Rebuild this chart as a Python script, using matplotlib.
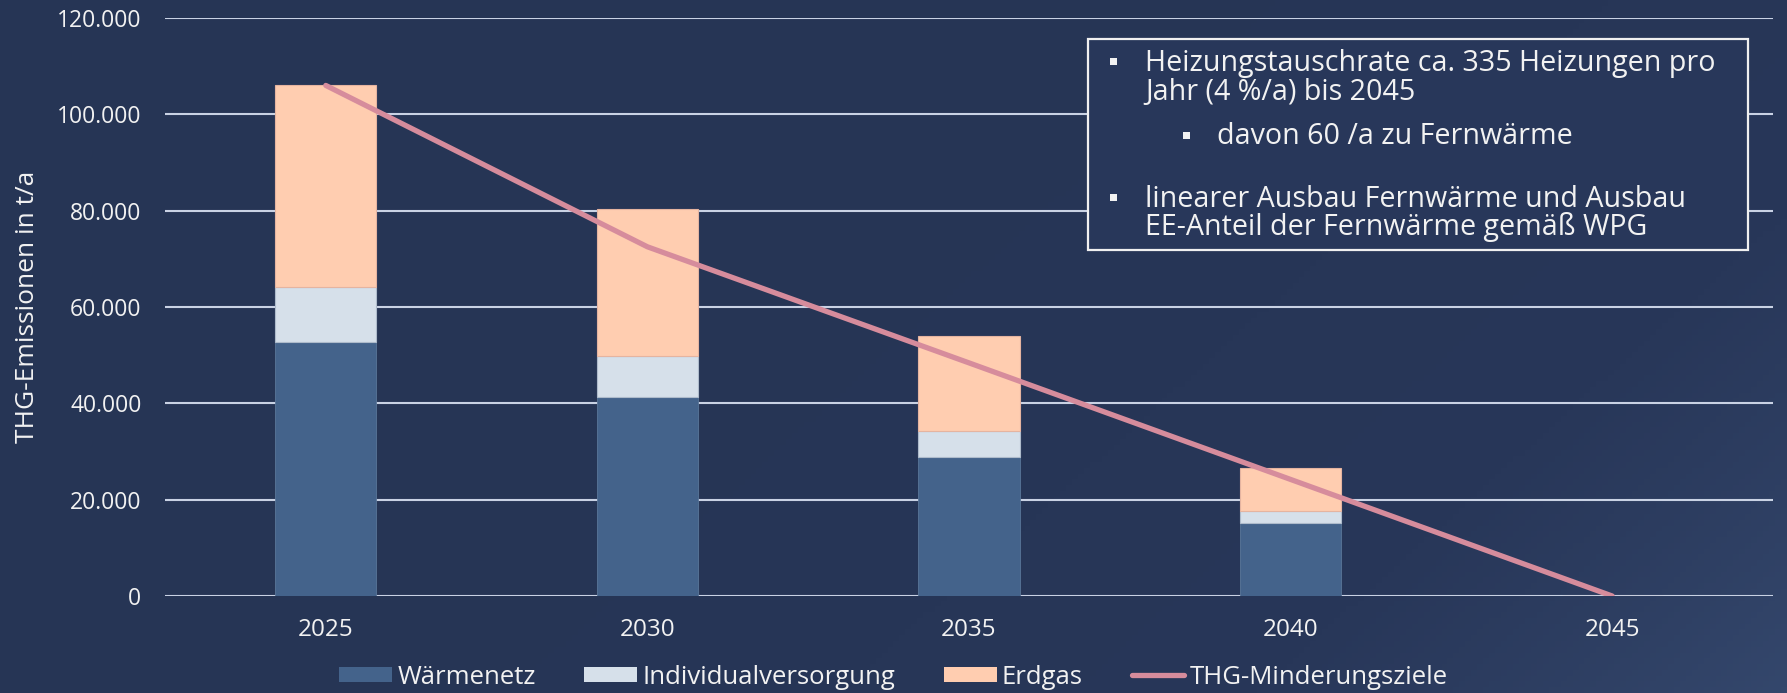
import numpy as np
import matplotlib
matplotlib.use("Agg")
import matplotlib.pyplot as plt
from matplotlib.patches import Rectangle, Patch
from matplotlib.lines import Line2D
from matplotlib.colors import LinearSegmentedColormap

# ---------------- data ----------------
years = ["2025", "2030", "2035", "2040", "2045"]
waermenetz = [52700, 41400, 28900, 15200, 0]
individual = [11400, 8500, 5400, 2400, 0]
erdgas = [41900, 30500, 19600, 9000, 0]
thg_ziele = [106000, 72500, 48400, 24200, 0]
yticks = [0, 20000, 40000, 60000, 80000, 100000, 120000]
ytick_labels = ["0", "20.000", "40.000", "60.000", "80.000", "100.000", "120.000"]
series_names = ["Wärmenetz", "Individualversorgung", "Erdgas", "THG-Minderungsziele"]
note_lines = [
    ("Heizungstauschrate ca. 335 Heizungen pro", 0, True),
    ("Jahr (4 %/a) bis 2045", 0, False),
    ("davon 60 /a zu Fernwärme", 1, True),
    ("linearer Ausbau Fernwärme und Ausbau", 0, True),
    ("EE-Anteil der Fernwärme gemäß WPG", 0, False),
]

# ---------------- style ----------------
FONT = ["Open Sans", "DejaVu Sans"]
plt.rcParams["font.family"] = FONT
TXT = "#F2F2F2"
C_W = "#44638B"
C_I = "#D6E0EA"
C_E = "#FFCDB0"
C_L = "#D68C9C"
GRID = "#C9D2E4"

W, H = 1787, 693
fig = plt.figure(figsize=(W / 100, H / 100), dpi=100)

# background gradient (darker top-left, lighter bottom-right)
bg = fig.add_axes([0, 0, 1, 1], zorder=-10)
gx, gy = np.meshgrid(np.linspace(0, 1, 300), np.linspace(0, 1, 120))
grad = np.clip(gx * 0.7 + gy * 0.3, 0, 1) ** 3
cmap = LinearSegmentedColormap.from_list("bg", ["#263555", "#283759", "#34476C"])
bg.imshow(grad, cmap=cmap, aspect="auto", extent=[0, 1, 0, 1], origin="upper")
bg.set_axis_off()

ax = fig.add_axes([165 / W, 1 - 596 / H, (1773 - 165) / W, (596 - 18) / H])
ax.set_facecolor("none")
x = np.arange(len(years))
bw = 0.315
ax.bar(x, waermenetz, bw, color=C_W, edgecolor="#5A7699", linewidth=0.6, zorder=2)
ax.bar(x, individual, bw, bottom=waermenetz, color=C_I, edgecolor="#AEBBCB",
       linewidth=0.8, zorder=2)
bot2 = np.array(waermenetz) + np.array(individual)
ax.bar(x, erdgas, bw, bottom=bot2, color=C_E, edgecolor="#E5B4A0", linewidth=0.8, zorder=2)
ax.plot(x, thg_ziele, color=C_L, linewidth=3.8, solid_capstyle="round", zorder=3)

ax.set_xlim(-0.5, 4.5)
ax.set_ylim(0, 120000)
ax.set_yticks(yticks)
ax.set_yticklabels(ytick_labels)
ax.set_xticks(x)
ax.set_xticklabels(years)
for s in ax.spines.values():
    s.set_visible(False)
ax.tick_params(axis="both", length=0, colors=TXT)
ax.tick_params(axis="y", pad=17, labelsize=16.5)
ax.tick_params(axis="x", pad=16, labelsize=17.5)
ax.yaxis.grid(True, color=GRID, linewidth=1.5, zorder=0)
ax.set_axisbelow(True)
ax.set_ylabel("THG-Emissionen in t/a", color=TXT, fontsize=19)
ax.yaxis.set_label_coords(-(165 - 40) / (1773 - 165), 0.5)

# legend
handles = [
    Patch(facecolor=C_W, edgecolor="none"),
    Patch(facecolor=C_I, edgecolor="none"),
    Patch(facecolor=C_E, edgecolor="none"),
    Line2D([0], [0], color=C_L, linewidth=3.8, solid_capstyle="round"),
]
fig.legend(handles, series_names, loc="center", bbox_to_anchor=(0.5, 1 - 677 / H),
           ncol=4, frameon=False, fontsize=18.5, labelcolor=TXT, handlelength=2.05,
           handleheight=0.55, handletextpad=0.2, columnspacing=1.9,
           borderpad=0.1)

# note box
bx0, bx1, by0, by1 = 1088, 1748, 39, 250
fig.patches.append(Rectangle((bx0 / W, 1 - by1 / H), (bx1 - bx0) / W, (by1 - by0) / H,
                             transform=fig.transFigure, facecolor="#28375A",
                             edgecolor="#F0F0F0", linewidth=1.6, zorder=5))
baselines = [71, 100, 144, 207, 235]
bullet_y = [61, None, 135, 197, None]
for (txt, lvl, bullet), yb, yc in zip(note_lines, baselines, bullet_y):
    tx = 1145 if lvl == 0 else 1217
    bxp = 1113 if lvl == 0 else 1186
    fig.text(tx / W, 1 - yb / H, txt, color=TXT, fontsize=20.6, va="baseline",
             ha="left", zorder=6)
    if bullet:
        sz = 7
        fig.patches.append(Rectangle(((bxp - sz / 2) / W, 1 - (yc + sz / 2) / H),
                                     sz / W, sz / H, transform=fig.transFigure,
                                     facecolor=TXT, edgecolor="none", zorder=6))

fig.savefig("out.png", dpi=100)
